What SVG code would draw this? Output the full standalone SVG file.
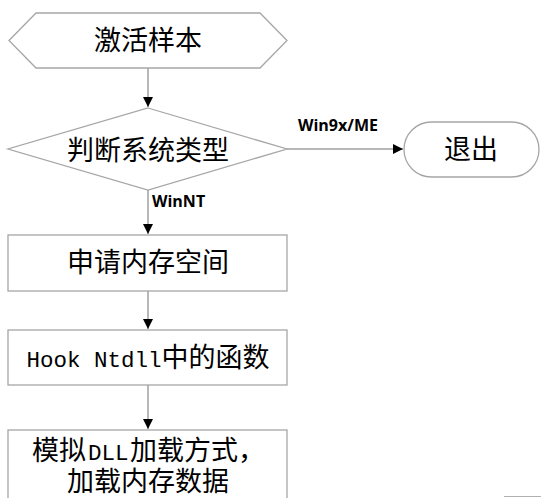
<svg xmlns="http://www.w3.org/2000/svg" width="541" height="498" viewBox="0 0 541 498">
  <defs>
    <marker id="arrow" viewBox="0 0 10 10" refX="10" refY="5" markerWidth="10" markerHeight="10" markerUnits="userSpaceOnUse" orient="auto">
      <path d="M0,0 L10,5 L0,10 Z" fill="#000"/>
    </marker>
    <style>
      .shape { fill: #fff; stroke: #a6a6a6; stroke-width: 1.3; }
      .edge { fill: none; stroke: #a0a0a0; stroke-width: 1.5; marker-end: url(#arrow); }
      .cjk { font-family: "Noto Sans CJK SC", sans-serif; font-size: 27px; fill: #000; text-anchor: middle; }
      .start { text-anchor: start; }
      .mono { font-family: "Liberation Mono", "Noto Sans CJK SC", monospace; font-size: 22.5px; }
      .lbl { font-family: "Open Sans", "Liberation Sans", sans-serif; font-weight: 700; font-size: 16px; fill: #000; }
    </style>
  </defs>

  <rect width="541" height="498" fill="#fff"/>

  <!-- connectors -->
  <g id="connectors">
    <line class="edge" x1="148" y1="68" x2="148" y2="107"/>
    <line class="edge" x1="287" y1="149" x2="403" y2="149"/>
    <line class="edge" x1="148" y1="190" x2="148" y2="234"/>
    <line class="edge" x1="148" y1="291" x2="148" y2="329"/>
    <line class="edge" x1="148" y1="385" x2="148" y2="429"/>
    <text class="lbl" x="298" y="131">Win9x/ME</text>
    <text class="lbl" x="152" y="207">WinNT</text>
  </g>

  <!-- start -->
  <g id="start">
    <polygon class="shape" points="9,40.5 36,13 260,13 287,40.5 260,68 36,68"/>
    <text class="cjk" x="148" y="50">激活样本</text>
  </g>

  <!-- OS check -->
  <g id="check">
    <polygon class="shape" points="148,108 287,149 148,190 8,149"/>
    <text class="cjk" x="148" y="160">判断系统类型</text>
  </g>

  <!-- exit -->
  <g id="exit">
    <rect class="shape" x="404" y="122" width="135" height="55" rx="27.5" ry="27.5"/>
    <text class="cjk" x="471" y="159">退出</text>
  </g>

  <!-- allocate memory -->
  <g id="alloc">
    <rect class="shape" x="8" y="235" width="279" height="56"/>
    <text class="cjk" x="148" y="272">申请内存空间</text>
  </g>

  <!-- hook -->
  <g id="hook">
    <rect class="shape" x="8" y="330" width="279" height="55"/>
    <text class="cjk" x="148" y="367"><tspan class="mono">Hook Ntdll</tspan>中的函数</text>
  </g>

  <!-- load: first line laid out piece by piece (CJK / Latin / CJK) -->
  <g id="load">
    <rect class="shape" x="8" y="430" width="279" height="80"/>
    <text class="cjk start" x="32" y="460">模拟</text>
    <text class="cjk start mono" x="88" y="460">DLL</text>
    <text class="cjk start" x="130" y="460">加载方式，</text>
    <text class="cjk" x="148" y="491">加载内存数据</text>
  </g>

  <line x1="504" y1="496.5" x2="541" y2="496.5" stroke="#b0b0b0" stroke-width="1"/>
</svg>
